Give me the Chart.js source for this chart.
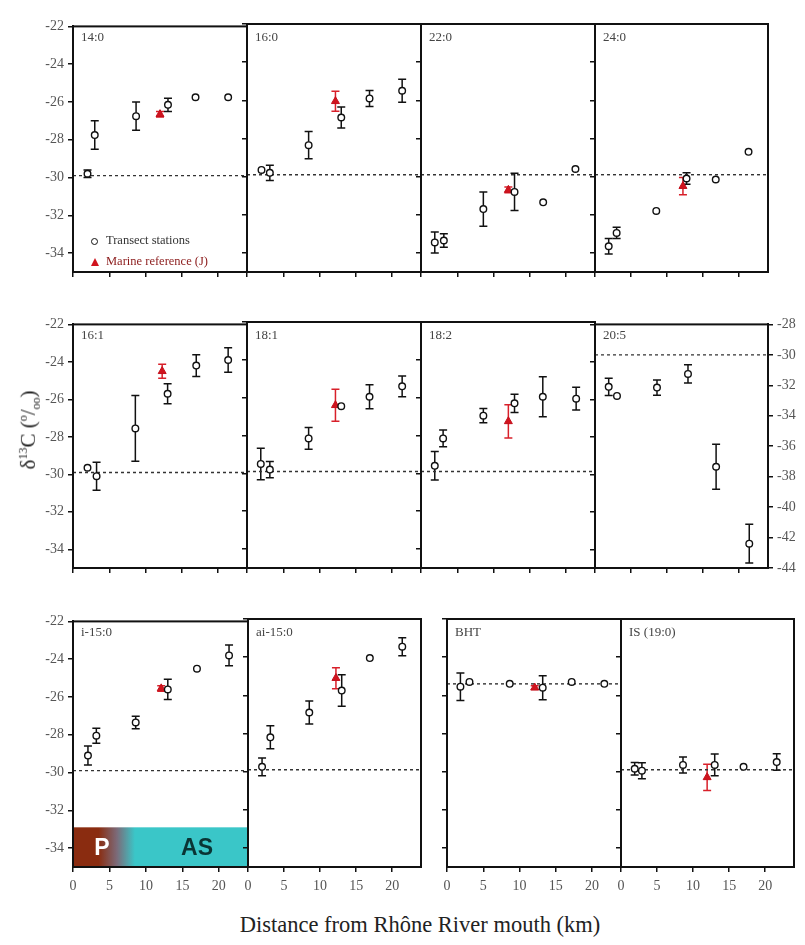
<!DOCTYPE html>
<html>
<head>
<meta charset="utf-8">
<script src="https://cdn.jsdelivr.net/npm/chart.js@4.4.1/dist/chart.umd.min.js"></script>
<style>
  body { margin: 0; background: #fff; }
  #fig { position: relative; width: 805px; height: 945px; overflow: hidden; font-family: 'Liberation Serif', serif; }
  #fig canvas { position: absolute; }
  .txt { position: absolute; white-space: nowrap; z-index: 2; }
  .plabel { font-size: 13px; color: #444; }
  .leg { font-size: 12.5px; line-height: 14px; }
  .dot { display: inline-block; width: 5px; height: 5px; border: 1.4px solid #111; border-radius: 50%; margin-right: 8px; vertical-align: middle; }
  .tri { display: inline-block; width: 0; height: 0; border-left: 4.5px solid transparent; border-right: 4.5px solid transparent; border-bottom: 8px solid #d0141e; margin-right: 7px; vertical-align: middle; }
  .zone { font-family: 'Liberation Sans', sans-serif; font-weight: bold; font-size: 23px; transform: translate(-50%, -50%); }
</style>
</head>
<body>
<div id="fig"></div>
<script>
// distance from the river mouth (km) and d13C (per mil), error = 1 SD
const xTicks = [0, 5, 10, 15, 20];
const yTicks = [-22, -24, -26, -28, -30, -32, -34];
const yTicksRight = [-28, -30, -32, -34, -36, -38, -40, -42, -44];
const panelNames = ['14:0', '16:0', '22:0', '24:0', '16:1', '18:1', '18:2', '20:5', 'i-15:0', 'ai-15:0', 'BHT', 'IS (19:0)'];

// transect stations: x, y, sd ; marine reference (J): [x, y, sd]
const x_14_0 = [2.0, 3.0, 8.7, 13.1, 16.9, 21.4];
const y_14_0 = [-29.8, -27.75, -26.75, -26.15, -25.75, -25.75];
const e_14_0 = [0.2, 0.75, 0.75, 0.35, 0, 0];
const j_14_0 = [12.0, -26.65, 0.15];

const x_16_0 = [2.0, 3.15, 8.5, 13.0, 16.9, 21.4];
const y_16_0 = [-29.65, -29.8, -28.35, -26.9, -25.9, -25.5];
const e_16_0 = [0, 0.4, 0.72, 0.55, 0.42, 0.6];
const j_16_0 = [12.2, -26.05, 0.52];

const x_22_0 = [1.9, 3.15, 8.6, 12.9, 16.85, 21.3];
const y_22_0 = [-33.45, -33.35, -31.7, -30.8, -31.35, -29.6];
const e_22_0 = [0.55, 0.35, 0.9, 0.97, 0, 0];
const j_22_0 = [12.05, -30.7, 0.15];

const x_24_0 = [1.9, 3.0, 8.5, 12.7, 16.75, 21.3];
const y_24_0 = [-33.65, -32.95, -31.8, -30.1, -30.15, -28.7];
const e_24_0 = [0.4, 0.3, 0, 0.3, 0, 0];
const j_24_0 = [12.2, -30.5, 0.45];

const x_16_1 = [2.0, 3.25, 8.6, 13.05, 17.0, 21.4];
const y_16_1 = [-29.65, -30.1, -27.55, -25.7, -24.2, -23.9];
const e_16_1 = [0, 0.75, 1.75, 0.53, 0.58, 0.65];
const j_16_1 = [12.3, -24.5, 0.38];

const x_18_1 = [1.9, 3.15, 8.5, 13.0, 16.9, 21.4];
const y_18_1 = [-29.5, -29.8, -28.15, -26.45, -25.95, -25.4];
const e_18_1 = [0.83, 0.43, 0.57, 0, 0.63, 0.55];
const j_18_1 = [12.2, -26.4, 0.85];

const x_18_2 = [1.9, 3.05, 8.6, 12.9, 16.8, 21.4];
const y_18_2 = [-29.6, -28.15, -26.95, -26.3, -25.95, -26.05];
const e_18_2 = [0.75, 0.44, 0.38, 0.48, 1.06, 0.6];
const j_18_2 = [12.05, -27.25, 0.88];

const x_20_5 = [1.9, 3.05, 8.6, 12.9, 16.8, 21.4];
const y_20_5 = [-32.1, -32.7, -32.15, -31.25, -37.35, -42.4];
const e_20_5 = [0.57, 0, 0.5, 0.6, 1.47, 1.27];

const x_i15_0 = [2.05, 3.2, 8.6, 13.0, 17.0, 21.4];
const y_i15_0 = [-29.1, -28.05, -27.35, -25.6, -24.5, -23.8];
const e_i15_0 = [0.5, 0.4, 0.33, 0.54, 0, 0.55];
const j_i15_0 = [12.1, -25.55, 0.15];

const x_ai15_0 = [1.95, 3.1, 8.5, 13.0, 16.9, 21.4];
const y_ai15_0 = [-29.75, -28.2, -26.9, -25.75, -24.05, -23.45];
const e_ai15_0 = [0.47, 0.6, 0.6, 0.83, 0, 0.47];
const j_ai15_0 = [12.2, -25.1, 0.55];

const x_bht = [1.85, 3.1, 8.65, 13.2, 17.2, 21.7];
const y_bht = [-25.55, -25.3, -25.4, -25.6, -25.3, -25.4];
const e_bht = [0.72, 0, 0, 0.63, 0, 0];
const j_bht = [12.1, -25.6, 0.1];

const x_is = [1.9, 2.9, 8.6, 13.0, 17.0, 21.6];
const y_is = [-29.85, -29.95, -29.65, -29.65, -29.75, -29.5];
const e_is = [0.33, 0.42, 0.42, 0.57, 0, 0.43];
const j_is = [11.95, -30.3, 0.69];

// dashed reference level of each panel (20:5 is on its right axis)
const refLevels = [-29.9, -29.9, -29.9, -29.9, -29.9, -29.9, -29.9, -30, -29.9, -29.9, -25.4, -29.9];

// P -> AS zone strip in i-15:0
const zoneY = [-32.9, -35];
const zoneFade = [3.5, 8.5];

const series = [
  [x_14_0, y_14_0, e_14_0, j_14_0], [x_16_0, y_16_0, e_16_0, j_16_0],
  [x_22_0, y_22_0, e_22_0, j_22_0], [x_24_0, y_24_0, e_24_0, j_24_0],
  [x_16_1, y_16_1, e_16_1, j_16_1], [x_18_1, y_18_1, e_18_1, j_18_1],
  [x_18_2, y_18_2, e_18_2, j_18_2], [x_20_5, y_20_5, e_20_5, null],
  [x_i15_0, y_i15_0, e_i15_0, j_i15_0], [x_ai15_0, y_ai15_0, e_ai15_0, j_ai15_0],
  [x_bht, y_bht, e_bht, j_bht], [x_is, y_is, e_is, j_is]
];

// plot boxes: left, top, width, height
const boxes = [
  [73, 24, 174, 248], [247, 24, 174, 248], [421, 24, 174, 248], [595, 24, 173, 248],
  [73, 322, 174, 246], [247, 322, 174, 246], [421, 322, 174, 246], [595, 322, 173, 246],
  [73, 619, 175, 248], [248, 619, 173, 248], [447, 619, 174, 248], [621, 619, 173, 248]
];
const padL = 50, padR = 45, padT = 10, padB = 30;
const ink = '#111';
const tickFont = { family: "'Liberation Serif', serif", size: 14 };

const errorBars = {
  id: 'errorBars',
  beforeDatasetsDraw(chart) {
    const ctx = chart.ctx;
    chart.data.datasets.forEach(ds => {
      if (!ds.errors) return;
      const xs = chart.scales.x, ys = chart.scales[ds.yAxisID];
      ctx.save();
      ctx.strokeStyle = ds.errorColor;
      ctx.lineWidth = 1.5;
      ds.data.forEach((p, j) => {
        const e = ds.errors[j];
        if (!e) return;
        const px = xs.getPixelForValue(p.x);
        const t = ys.getPixelForValue(p.y + e), b = ys.getPixelForValue(p.y - e);
        ctx.beginPath();
        ctx.moveTo(px, t); ctx.lineTo(px, b);
        ctx.moveTo(px - 4, t); ctx.lineTo(px + 4, t);
        ctx.moveTo(px - 4, b); ctx.lineTo(px + 4, b);
        ctx.stroke();
      });
      ctx.restore();
    });
  }
};

const zoneStrip = {
  id: 'zoneStrip',
  beforeDatasetsDraw(chart, args, opts) {
    if (!opts.on) return;
    const { ctx, scales: { x, y } } = chart;
    const x0 = x.getPixelForValue(x.min), x1 = x.getPixelForValue(x.max);
    const yt = y.getPixelForValue(zoneY[0]), yb = y.getPixelForValue(zoneY[1]);
    const g = ctx.createLinearGradient(x.getPixelForValue(zoneFade[0]), 0, x.getPixelForValue(zoneFade[1]), 0);
    g.addColorStop(0, '#8a2c10');
    g.addColorStop(0.5, '#7c6a78');
    g.addColorStop(1, '#3ac6c8');
    ctx.save();
    ctx.fillStyle = g;
    ctx.fillRect(x0, yt, x1 - x0, yb - yt);
    ctx.restore();
  }
};

const frame = {
  id: 'frame',
  afterDatasetsDraw(chart) {
    const { ctx, chartArea: a } = chart;
    ctx.save();
    ctx.strokeStyle = ink;
    ctx.lineWidth = 2;
    ctx.strokeRect(a.left, a.top, a.right - a.left, a.bottom - a.top);
    ctx.restore();
  }
};

function axisY(ticks, min, max, show, pos, width) {
  return {
    type: 'linear', position: pos, min, max,
    afterBuildTicks: s => { s.ticks = ticks.map(v => ({ value: v })); },
    afterFit: s => { s.width = width; },
    ticks: { display: show, font: tickFont, color: '#555', padding: 4, callback: v => String(v) },
    grid: { drawOnChartArea: false, drawTicks: true, tickLength: 5, color: ink, lineWidth: 1.5 },
    border: { display: true, color: ink, width: 2 }
  };
}

const fig = document.getElementById('fig');

panelNames.forEach((name, i) => {
  const [left, top, w, h] = boxes[i];
  const [xs, ys, es, ref] = series[i];
  const hasRight = name === '20:5';
  const yId = hasRight ? 'y2' : 'y';
  const showY = i === 0 || i === 4 || i === 8;
  const showX = i >= 8;

  const canvas = document.createElement('canvas');
  canvas.width = w + padL + padR;
  canvas.height = h + padT + padB;
  canvas.style.left = (left - padL) + 'px';
  canvas.style.top = (top - padT) + 'px';
  fig.appendChild(canvas);

  const datasets = [{
    label: 'Transect stations',
    data: xs.map((x, j) => ({ x, y: ys[j] })),
    errors: es, errorColor: ink, yAxisID: yId,
    pointStyle: 'circle', pointRadius: 3.3, pointBorderWidth: 1.4,
    borderColor: ink, backgroundColor: '#fff'
  }];
  if (ref) {
    datasets.push({
      label: 'Marine reference (J)',
      data: [{ x: ref[0], y: ref[1] }],
      errors: [ref[2]], errorColor: '#d8202a', yAxisID: yId,
      pointStyle: 'triangle', pointRadius: 4.6, pointBorderWidth: 1,
      borderColor: '#c4101c', backgroundColor: '#d0141e'
    });
  }
  datasets.push({
    type: 'line',
    data: [{ x: 0, y: refLevels[i] }, { x: 24, y: refLevels[i] }],
    yAxisID: yId, borderColor: '#333', borderWidth: 1.4, borderDash: [3, 3],
    pointRadius: 0
  });

  const scales = {
    x: {
      type: 'linear', min: 0, max: 24,
      afterBuildTicks: s => { s.ticks = xTicks.map(v => ({ value: v })); },
      afterFit: s => { s.height = padB; },
      ticks: { display: showX, font: tickFont, color: '#555', padding: 6, maxRotation: 0 },
      grid: { drawOnChartArea: false, drawTicks: true, tickLength: 5, color: ink, lineWidth: 1.5 },
      border: { display: true, color: ink, width: 2 }
    },
    y: axisY(yTicks, -35, -22, showY, 'left', padL)
  };
  if (hasRight) scales.y2 = axisY(yTicksRight, -44, -28, true, 'right', padR);

  new Chart(canvas, {
    type: 'scatter',
    data: { datasets },
    options: {
      responsive: false, animation: false, devicePixelRatio: 1,
      layout: { padding: { top: padT, right: hasRight ? 0 : padR, left: 0, bottom: 0 } },
      plugins: { legend: { display: false }, tooltip: { enabled: false }, zoneStrip: { on: name === 'i-15:0' } },
      scales
    },
    plugins: [zoneStrip, errorBars, frame]
  });

  const lab = document.createElement('div');
  lab.className = 'txt plabel';
  lab.style.left = (left + 8) + 'px';
  lab.style.top = (top + 5) + 'px';
  lab.textContent = name;
  fig.appendChild(lab);
});

function addText(html, cls, style) {
  const d = document.createElement('div');
  d.className = 'txt ' + cls;
  d.innerHTML = html;
  Object.assign(d.style, style);
  fig.appendChild(d);
}

addText('<span class="dot"></span><span style="color:#333">Transect stations</span>', 'leg', { left: '91px', top: '233px' });
addText('<span class="tri"></span><span style="color:#8b1a1a">Marine reference (J)</span>', 'leg', { left: '91px', top: '254px' });
addText('P', 'zone', { left: '102px', top: '847px', color: '#fff' });
addText('AS', 'zone', { left: '197px', top: '847px', color: '#0a3434' });
addText('δ<sup style="font-size:12px">13</sup>C (<sup style="font-size:12px">o</sup>/<sub style="font-size:12px">oo</sub>)', '',
  { left: '30px', top: '430px', fontSize: '21px', color: '#222', transform: 'translate(-50%, -50%) rotate(-90deg)' });
addText('Distance from Rhône River mouth (km)', '',
  { left: '420px', top: '925px', fontSize: '22.5px', color: '#222', transform: 'translate(-50%, -50%)' });
</script>
</body>
</html>
